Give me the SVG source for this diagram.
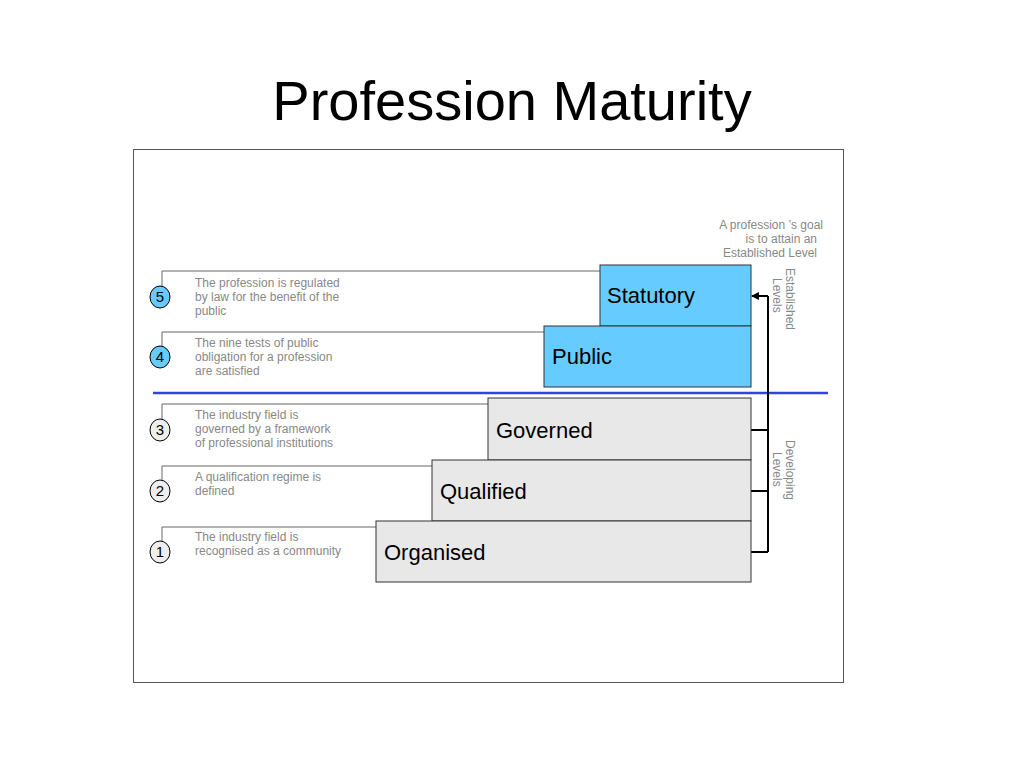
<svg xmlns="http://www.w3.org/2000/svg" width="1024" height="768" viewBox="0 0 1024 768">
<defs>
<style>
.t{font-family:"Liberation Sans",Arial,sans-serif}
.d{font-family:"Liberation Sans",Arial,sans-serif;font-size:12px;fill:#888}
.lb{font-family:"Liberation Sans",Arial,sans-serif;font-size:22px;fill:#000}
.blue{fill:#66ccff;stroke:#333;stroke-width:1}
.grey{fill:#e8e8e8;stroke:#333;stroke-width:1}
.lead{fill:none;stroke:#666;stroke-width:1}
.cb{fill:#66ccff;stroke:#000;stroke-width:1}
.cg{fill:#eee;stroke:#000;stroke-width:1}
.n{font-family:"Liberation Sans",Arial,sans-serif;font-size:15px;text-anchor:middle}
</style>
<marker id="ah" markerWidth="8" markerHeight="8" refX="7" refY="4" orient="auto" markerUnits="userSpaceOnUse"><path d="M0,0 L8,4 L0,8 Z" fill="#000"/></marker>
</defs>
<rect width="1024" height="768" fill="#fff"/>
<text class="t" x="512" y="120" font-size="56" text-anchor="middle">Profession Maturity</text>
<rect x="133.5" y="149.5" width="710" height="533" fill="none" stroke="#555"/>
<text class="d" text-anchor="end"><tspan x="823" y="229">A profession ’s goal</tspan><tspan x="817" y="243">is to attain an</tspan><tspan x="817" y="257">Established Level</tspan></text>
<g id="connectors">
<path class="lead" d="M600,271 H162 V286"/>
<path class="lead" d="M544,332 H162 V346"/>
<path class="lead" d="M488,404 H162 V419"/>
<path class="lead" d="M432,466 H162 V480"/>
<path class="lead" d="M376,527 H162 V541"/>
<line x1="153" y1="393" x2="828" y2="393" stroke="#3344dd" stroke-width="2.5"/>
<path d="M768,296 V552 M768,430 H751 M768,491 H751 M768,552 H751" stroke="#000" stroke-width="2" fill="none"/>
<line x1="768" y1="296" x2="752" y2="296" stroke="#000" stroke-width="2" marker-end="url(#ah)"/>
</g>
<g id="statutory"><rect class="blue" x="600" y="265" width="151" height="61"/><text class="lb" x="607" y="303">Statutory</text></g>
<g id="public"><rect class="blue" x="544" y="326" width="207" height="61"/><text class="lb" x="552" y="364">Public</text></g>
<g id="governed"><rect class="grey" x="488" y="398" width="263" height="62"/><text class="lb" x="496" y="438">Governed</text></g>
<g id="qualified"><rect class="grey" x="432" y="460" width="319" height="61"/><text class="lb" x="440" y="499">Qualified</text></g>
<g id="organised"><rect class="grey" x="376" y="521" width="375" height="61"/><text class="lb" x="384" y="560">Organised</text></g>
<g id="c5"><ellipse class="cb" cx="160" cy="297" rx="10" ry="11"/><text class="n" x="160" y="302">5</text><text class="d"><tspan x="195" y="287">The profession is regulated</tspan><tspan x="195" y="301">by law for the benefit of the</tspan><tspan x="195" y="315">public</tspan></text></g>
<g id="c4"><ellipse class="cb" cx="160" cy="357" rx="10" ry="11"/><text class="n" x="160" y="362">4</text><text class="d"><tspan x="195" y="347">The nine tests of public</tspan><tspan x="195" y="361">obligation for a profession</tspan><tspan x="195" y="375">are satisfied</tspan></text></g>
<g id="c3"><ellipse class="cg" cx="160" cy="430" rx="10" ry="11"/><text class="n" x="160" y="435">3</text><text class="d"><tspan x="195" y="419">The industry field is</tspan><tspan x="195" y="433">governed by a framework</tspan><tspan x="195" y="447">of professional institutions</tspan></text></g>
<g id="c2"><ellipse class="cg" cx="160" cy="491" rx="10" ry="11"/><text class="n" x="160" y="496">2</text><text class="d"><tspan x="195" y="481">A qualification regime is</tspan><tspan x="195" y="495">defined</tspan></text></g>
<g id="c1"><ellipse class="cg" cx="160" cy="552" rx="10" ry="11"/><text class="n" x="160" y="557">1</text><text class="d"><tspan x="195" y="541">The industry field is</tspan><tspan x="195" y="555">recognised as a community</tspan></text></g>
<text class="d" font-size="13" transform="translate(786,268) rotate(90)"><tspan x="0" y="0">Established</tspan><tspan x="10" y="13">Levels</tspan></text>
<text class="d" font-size="13" transform="translate(786,440) rotate(90)"><tspan x="0" y="0">Developing</tspan><tspan x="12" y="13">Levels</tspan></text>
</svg>
